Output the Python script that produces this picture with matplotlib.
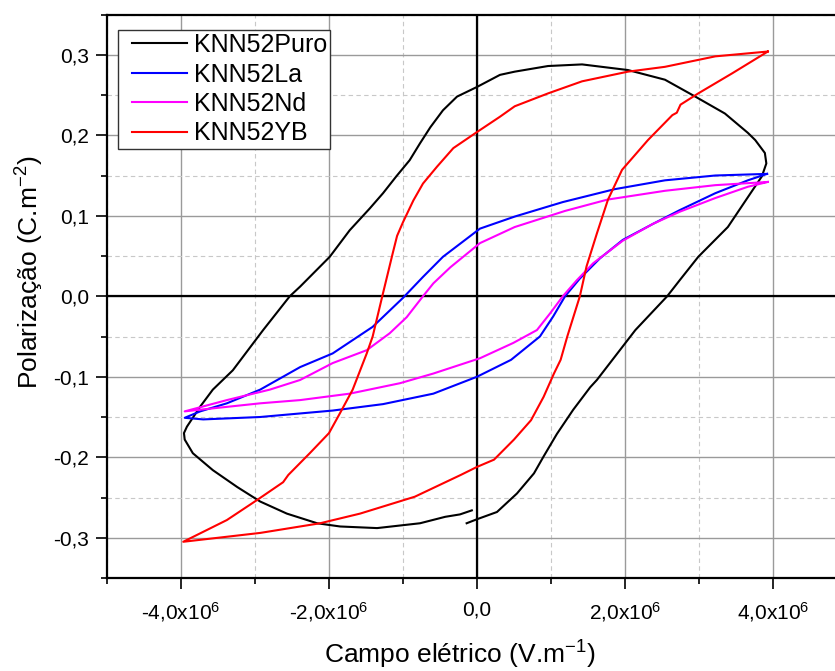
import numpy as np
import matplotlib
matplotlib.use('Agg')
import matplotlib.pyplot as plt
from matplotlib.ticker import MultipleLocator, FuncFormatter
from matplotlib.legend_handler import HandlerLine2D

plt.rcParams['font.family'] = ['Liberation Sans', 'DejaVu Sans']
plt.rcParams['mathtext.fontset'] = 'custom'
plt.rcParams['mathtext.rm'] = 'Liberation Sans'
plt.rcParams['mathtext.default'] = 'regular'
plt.rcParams['axes.unicode_minus'] = False

# ##### DATA (E in 1e6 V/m, P in C/m2) ######

labels = ['KNN52Puro', 'KNN52La', 'KNN52Nd', 'KNN52YB']
colors = ['#000000', '#0000ff', '#ff00ff', '#ff0000']

E_puro = [-0.14, 0.0, 0.27, 0.54, 0.77, 0.90, 1.08, 1.30, 1.53, 1.62, 2.14, 2.57, 2.74, 2.99, 3.39,
          3.66, 3.85, 3.91, 3.89, 3.76, 3.66, 3.35, 2.95, 2.54, 2.04, 1.42, 0.96, 0.51, 0.31, 0.0,
          -0.27, -0.46, -0.63, -0.77, -0.91, -1.09, -1.27, -1.45, -1.72, -1.99, -2.39, -2.53, -2.89,
          -3.30, -3.57, -3.74, -3.92, -3.96, -3.95, -3.84, -3.57, -3.24, -2.93, -2.57, -2.16, -1.85,
          -1.35, -0.77, -0.43, -0.23, -0.07]
P_puro = [-0.282, -0.277, -0.268, -0.245, -0.220, -0.199, -0.171, -0.141, -0.113, -0.104, -0.042, 0.0,
          0.020, 0.049, 0.086, 0.123, 0.149, 0.165, 0.178, 0.194, 0.203, 0.227, 0.248, 0.269, 0.281,
          0.288, 0.286, 0.279, 0.275, 0.260, 0.248, 0.231, 0.210, 0.190, 0.169, 0.149, 0.128, 0.109,
          0.082, 0.049, 0.012, 0.0, -0.042, -0.092, -0.116, -0.137, -0.162, -0.170, -0.178, -0.195,
          -0.216, -0.237, -0.255, -0.270, -0.282, -0.286, -0.288, -0.282, -0.274, -0.271, -0.266]

E_la = [3.92, 3.22, 2.54, 1.86, 1.16, 0.51, 0.04, -0.46, -0.73, -1.0, -1.41, -1.95, -2.39, -2.93,
        -3.38, -3.74, -3.95, -3.70, -2.93, -1.95, -1.27, -0.59, 0.0, 0.46, 0.85, 1.03, 1.19, 1.39,
        1.66, 1.97, 2.38, 2.74, 3.22, 3.66, 3.92]
P_la = [0.152, 0.150, 0.144, 0.133, 0.117, 0.099, 0.084, 0.049, 0.024, -0.002, -0.038, -0.071, -0.088,
        -0.116, -0.133, -0.143, -0.151, -0.153, -0.150, -0.142, -0.134, -0.121, -0.100, -0.079, -0.050,
        -0.025, 0.0, 0.022, 0.047, 0.070, 0.090, 0.107, 0.128, 0.144, 0.152]

E_nd = [3.93, 3.22, 2.54, 1.76, 1.19, 0.51, 0.04, -0.36, -0.59, -0.73, -0.95, -1.18, -1.49, -1.95,
        -2.39, -2.80, -3.38, -3.95, -2.93, -2.39, -1.72, -1.04, -0.59, 0.04, 0.49, 0.81, 0.99, 1.16,
        1.35, 1.57, 1.97, 2.38, 2.74, 3.22, 3.66, 3.93]
P_nd = [0.142, 0.138, 0.131, 0.120, 0.106, 0.086, 0.066, 0.036, 0.016, 0.0, -0.026, -0.046, -0.067,
        -0.083, -0.104, -0.116, -0.129, -0.143, -0.133, -0.129, -0.121, -0.108, -0.096, -0.077, -0.058,
        -0.042, -0.021, 0.0, 0.020, 0.041, 0.069, 0.090, 0.105, 0.122, 0.136, 0.142]

E_yb = [3.93, 3.22, 2.54, 2.04, 1.42, 0.96, 0.51, 0.31, 0.0, -0.32, -0.54, -0.73, -0.86, -1.0, -1.08,
        -1.14, -1.28, -1.41, -1.49, -1.68, -1.85, -2.0, -2.26, -2.55, -2.62, -2.97, -3.38, -3.97,
        -2.93, -2.12, -1.58, -0.84, -0.22, 0.0, 0.23, 0.50, 0.73, 0.90, 1.04, 1.13, 1.22, 1.39, 1.48,
        1.62, 1.77, 1.96, 2.31, 2.64, 2.70, 2.75, 2.99, 3.45, 3.93]
P_yb = [0.304, 0.298, 0.285, 0.279, 0.267, 0.252, 0.236, 0.223, 0.204, 0.184, 0.161, 0.140, 0.119,
        0.092, 0.075, 0.053, 0.0, -0.050, -0.071, -0.116, -0.145, -0.170, -0.195, -0.222, -0.231,
        -0.253, -0.278, -0.305, -0.294, -0.282, -0.270, -0.249, -0.222, -0.212, -0.203, -0.178,
        -0.154, -0.125, -0.096, -0.079, -0.050, 0.0, 0.037, 0.078, 0.120, 0.157, 0.194, 0.225, 0.228,
        0.238, 0.252, 0.277, 0.304]

######################

curves = [(E_puro, P_puro), (E_la, P_la), (E_nd, P_nd), (E_yb, P_yb)]

fig = plt.figure(figsize=(8.35, 6.71), dpi=100)
ax = fig.add_axes([107/835, 93/671, 740/835, 563.5/671])

for (E, P), lab, col in zip(curves, labels, colors):
    ax.plot(np.array(E)*1e6, P, color=col, lw=1.5, label=lab, zorder=3)

ax.set_xlim(-5e6, 5e6)
ax.set_ylim(-0.35, 0.35)

# grid + zero lines
ax.xaxis.set_major_locator(MultipleLocator(2e6))
ax.xaxis.set_minor_locator(MultipleLocator(1e6))
ax.yaxis.set_major_locator(MultipleLocator(0.1))
ax.yaxis.set_minor_locator(MultipleLocator(0.05))
ax.grid(which='major', color='#9a9a9a', lw=1.0, zorder=0)
ax.grid(which='minor', color='#c8c8c8', lw=0.8, ls=(0, (4, 3)), zorder=0)
ax.axhline(0, color='black', lw=1.6, zorder=2)
ax.axvline(0, color='black', lw=1.6, zorder=2)
ax.set_axisbelow(True)


def fmt_x(v, pos):
    if abs(v) < 1:
        return '0,0'
    return ('%.1f' % (v/1e6)).replace('.', ',') + 'x10$^{6}$'


def fmt_y(v, pos):
    s = '%.1f' % v
    if s == '-0.0':
        s = '0.0'
    return s.replace('.', ',')


ax.xaxis.set_major_formatter(FuncFormatter(fmt_x))
ax.yaxis.set_major_formatter(FuncFormatter(fmt_y))
ax.tick_params(which='major', direction='out', length=8, width=1.2, labelsize=15, pad=5)
ax.tick_params(axis='x', which='major', pad=8)
ax.tick_params(which='minor', direction='out', length=4, width=1.2)
ax.tick_params(top=False, right=False)

for s in ['left', 'bottom', 'top']:
    ax.spines[s].set_linewidth(1.6)
ax.spines['right'].set_visible(False)

ax.set_xlabel('Campo elétrico (V.m$^{-1}$)', fontsize=19, va='baseline')
ax.xaxis.set_label_coords(0.477, -0.1526)
ax.set_ylabel('Polarização (C.m$^{-2}$)', fontsize=19, va='baseline', ha='center',
              rotation_mode='anchor')
ax.yaxis.set_label_coords(-0.092, 0.542)

leg = ax.legend(loc='upper left', bbox_to_anchor=(118/835, 1 - 30/671), bbox_transform=fig.transFigure,
                borderaxespad=0, fontsize=18, fancybox=False, framealpha=1, edgecolor='#333333',
                handlelength=2.64, handletextpad=0.28, labelspacing=0.22, borderpad=0.12,
                handler_map={matplotlib.lines.Line2D: HandlerLine2D(xpad=0.44)})
leg.get_frame().set_linewidth(1.0)

plt.savefig('out.png', dpi=100)
plt.close()
